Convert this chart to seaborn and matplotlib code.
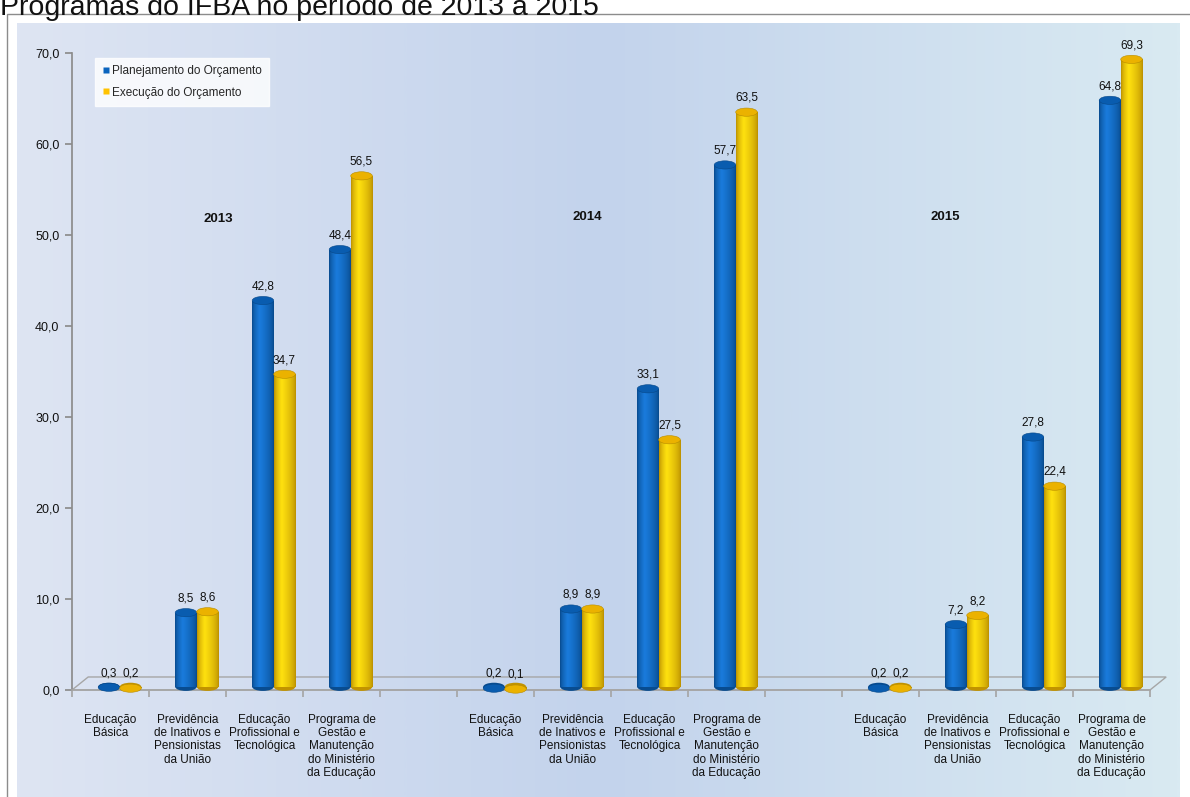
import numpy as np
import pandas as pd
import matplotlib
matplotlib.use("Agg")
import matplotlib.pyplot as plt
import seaborn as sns
from matplotlib.patches import Ellipse, Rectangle, Polygon
from matplotlib.colors import to_rgb, LinearSegmentedColormap
from matplotlib.ticker import FuncFormatter, FixedLocator

# ---------------- data ----------------
anos = ["2013", "2014", "2015"]
programas = [
    "Educação\nBásica",
    "Previdência\nde Inativos e\nPensionistas\nda União",
    "Educação\nProfissional e\nTecnológica",
    "Programa de\nGestão e\nManutenção\ndo Ministério\nda Educação",
]
series = ["Planejamento do Orçamento", "Execução do Orçamento"]
planejamento = {
    "2013": [0.3, 8.5, 42.8, 48.4],
    "2014": [0.2, 8.9, 33.1, 57.7],
    "2015": [0.2, 7.2, 27.8, 64.8],
}
execucao = {
    "2013": [0.2, 8.6, 34.7, 56.5],
    "2014": [0.1, 8.9, 27.5, 63.5],
    "2015": [0.2, 8.2, 22.4, 69.3],
}
titulo = "Programas do IFBA no período de 2013 a 2015"
yticks = [0, 10, 20, 30, 40, 50, 60, 70]

# ---------------- build table ----------------
order = []
labels = []
rows = []
for i, ano in enumerate(anos):
    for j, prog in enumerate(programas):
        key = f"{ano}|{j}"
        order.append(key)
        labels.append(prog)
        rows.append((key, series[0], planejamento[ano][j]))
        rows.append((key, series[1], execucao[ano][j]))
    if i < len(anos) - 1:
        order.append(f"gap{i}")
        labels.append("")
df = pd.DataFrame(rows, columns=["slot", "serie", "valor"])

BLUE = "#0A64BE"
YELLOW = "#FFC200"
palette = {series[0]: BLUE, series[1]: YELLOW}

FONT = ["Liberation Sans", "DejaVu Sans"]
sns.set_theme(style="white")
plt.rcParams["font.family"] = FONT

W, H = 1190, 797
fig = plt.figure(figsize=(W / 100, H / 100), dpi=100)
fig.patch.set_facecolor("white")

# background gradient panel
bg = fig.add_axes([17 / W, 0, (1180 - 17) / W, (H - 23) / H], zorder=0)
cmap = LinearSegmentedColormap.from_list(
    "bg", [(0.0, "#DEE5F3"), (0.5, "#C3D3EC"), (1.0, "#D9EAF2")])
grad = np.linspace(0, 1, 512)[None, :]
bg.imshow(grad, aspect="auto", cmap=cmap, extent=[0, 1, 0, 1])
bg.set_axis_off()

# outer frame
fig.patches.append(Rectangle((7 / W, -0.01), (W - 7) / W + 0.01, (H - 14) / H + 0.01,
                             transform=fig.transFigure, fill=False,
                             edgecolor="#8C8C8C", lw=1.0, zorder=1))
fig.text(0.0, 1 - 15 / H, titulo, fontsize=20.5, ha="left", va="baseline",
         color="#111111")

ax = fig.add_axes([72 / W, 107 / H, (1150 - 72) / W, (690 - 53) / H], zorder=2)
ax.patch.set_alpha(0)

sns.barplot(data=df, x="slot", y="valor", hue="serie", order=order,
            hue_order=series, palette=palette, width=0.56, ax=ax,
            saturation=1, legend=False, edgecolor="none")

ax.set_xlim(-0.5, len(order) - 0.5)
ax.set_ylim(0, 70)

# 3D floor
dx, dy = 0.21, 1.43
floor = Polygon([(-0.5, 0), (-0.5 + dx, dy), (len(order) - 0.5 + dx, dy),
                 (len(order) - 0.5, 0)], closed=True, facecolor="none",
                edgecolor="#A6A6A6", lw=1.0, clip_on=False, zorder=1)
ax.add_patch(floor)

# cylinder styling
shift = 0.12
ell_h = 0.9
for p in list(ax.patches):
    if not isinstance(p, Rectangle) or p is floor:
        continue
    h = p.get_height()
    if h is None or not np.isfinite(h):
        continue
    p.set_x(p.get_x() + shift)
    x0, w = p.get_x(), p.get_width()
    p.set_y(0.35)
    p.set_height(h - 0.35)
    base = np.array(to_rgb(p.get_facecolor()))
    dark = base * 0.72
    light = np.clip(base * 1.08 + 0.06, 0, 1)
    t = np.linspace(0, 1, 64)
    prof = np.interp(t, [0, 0.35, 1], [0, 1, 0]) ** 0.6
    img = dark[None, :] + (light - dark)[None, :] * prof[:, None]
    img = img[None, :, :]
    p.set_zorder(3)
    im = ax.imshow(img, extent=[x0, x0 + w, 0.35, h], aspect="auto",
                   zorder=3.1, interpolation="bilinear")
    im.set_clip_path(p)
    # bottom and top caps
    ax.add_patch(Ellipse((x0 + w / 2, 0.35), w, ell_h, facecolor=dark * 1.05,
                         edgecolor="none", zorder=3.05, clip_on=False))
    ax.add_patch(Ellipse((x0 + w / 2, h), w, ell_h,
                         facecolor=np.clip(base * 0.92, 0, 1),
                         edgecolor=dark, lw=0.4, zorder=3.3, clip_on=False))
    lab = f"{h:.1f}".replace(".", ",")
    ax.text(x0 + w / 2, h + 0.9, lab, ha="center", va="bottom", fontsize=8.5,
            color="#111111", zorder=5)

ax.set_xlim(-0.5, len(order) - 0.5)
ax.set_ylim(0, 70)

# axes styling
for s in ["top", "right"]:
    ax.spines[s].set_visible(False)
ax.spines["left"].set_color("#8C8C8C")
ax.spines["bottom"].set_color("#A6A6A6")
ax.yaxis.set_major_locator(FixedLocator(yticks))
ax.yaxis.set_major_formatter(FuncFormatter(lambda v, _: f"{v:.1f}".replace(".", ",")))
ax.tick_params(axis="y", left=True, length=5, color="#8C8C8C", labelsize=9,
               pad=4, labelcolor="#111111")
ax.set_xticks(np.arange(-0.5, len(order), 1.0))
ax.set_xticklabels([])
ax.set_xticks(np.arange(len(order)), minor=True)
ax.set_xticklabels(labels, minor=True, fontsize=8.5, linespacing=1.15,
                   color="#111111")
ax.tick_params(axis="x", which="major", bottom=True, length=5, color="#A6A6A6")
ax.tick_params(axis="x", which="minor", bottom=False, length=0, pad=17)
ax.set_xlabel("")
ax.set_ylabel("")
ax.grid(False)

# year annotations
for xpos, ypos, ano in [(1.40, 51.8, "2013"), (6.19, 52.0, "2014"), (10.84, 52.0, "2015")]:
    ax.text(xpos, ypos, ano, fontsize=9.5, fontweight="bold", ha="center",
            va="center", color="#111111", zorder=5)

# legend
handles = [plt.Line2D([], [], marker="s", linestyle="none", markersize=5,
                      markerfacecolor=c, markeredgecolor="none")
           for c in [BLUE, YELLOW]]
leg = ax.legend(handles, series, loc="upper left", bbox_to_anchor=(0.021, 0.992),
                borderaxespad=0, fontsize=8.5, frameon=True, fancybox=False,
                handletextpad=0.1, handlelength=0.8, labelspacing=0.8,
                borderpad=0.6)
leg.get_frame().set_facecolor("white")
leg.get_frame().set_edgecolor("white")
leg.set_zorder(6)

fig.savefig("out.png", dpi=100)
